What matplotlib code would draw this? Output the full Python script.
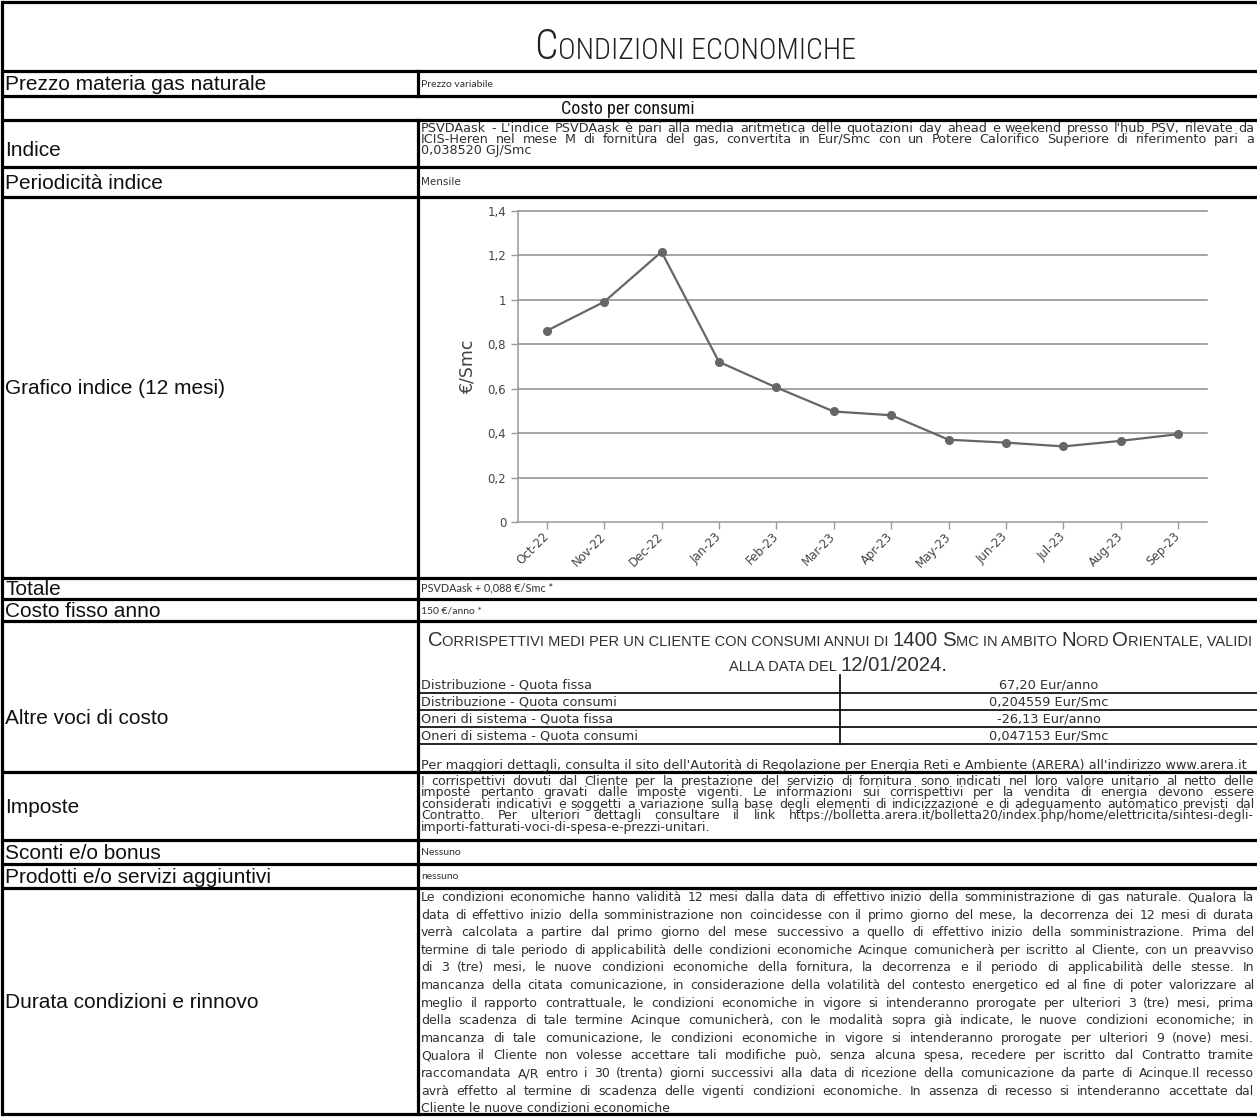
import matplotlib
matplotlib.use('Agg')
import matplotlib.pyplot as plt
from matplotlib import font_manager

# dati del grafico (PSVDAask, €/Smc)
mesi = ['Oct-22', 'Nov-22', 'Dec-22', 'Jan-23', 'Feb-23', 'Mar-23',
        'Apr-23', 'May-23', 'Jun-23', 'Jul-23', 'Aug-23', 'Sep-23']
psv = [0.86, 0.99, 1.215, 0.72, 0.605, 0.497, 0.48, 0.37, 0.357, 0.34, 0.365, 0.395]
y_ticks = [0, 0.2, 0.4, 0.6, 0.8, 1.0, 1.2, 1.4]
y_tick_labels = ['0', '0,2', '0,4', '0,6', '0,8', '1', '1,2', '1,4']

# testi della tabella
titolo = 'Condizioni economiche'
etichette = ['Prezzo materia gas naturale', 'Indice', 'Periodicità indice',
             'Grafico indice (12 mesi)', 'Totale', 'Costo fisso anno',
             'Altre voci di costo', 'Imposte', 'Sconti e/o bonus',
             'Prodotti e/o servizi aggiuntivi', 'Durata condizioni e rinnovo']
sezione = 'Costo per consumi'
prezzo = 'Prezzo variabile'
periodicita = 'Mensile'
totale = 'PSVDAask + 0,088 €/Smc *'
costo_fisso = '150 €/anno *'
sconti = 'Nessuno'
prodotti = 'nessuno'
indice_righe = [
    "PSVDAask - L'indice PSVDAask è pari alla media aritmetica delle quotazioni day ahead e weekend presso l'hub PSV, rilevate da",
    "ICIS-Heren nel mese M di fornitura del gas, convertita in Eur/Smc con un Potere Calorifico Superiore di riferimento pari a",
    "0,038520 GJ/Smc",
]
altre_titolo = ['Corrispettivi medi per un cliente con consumi annui di 1400 Smc in ambito Nord Orientale, validi',
                'alla data del 12/01/2024.']
voci = ['Distribuzione - Quota fissa', 'Distribuzione - Quota consumi',
        'Oneri di sistema - Quota fissa', 'Oneri di sistema - Quota consumi']
valori = ['67,20 Eur/anno', '0,204559 Eur/Smc', '-26,13 Eur/anno', '0,047153 Eur/Smc']
arera = ("Per maggiori dettagli, consulta il sito dell'Autorità di Regolazione per Energia Reti "
         "e Ambiente (ARERA) all'indirizzo www.arera.it")
imposte_righe = [
    "I corrispettivi dovuti dal Cliente per la prestazione del servizio di fornitura sono indicati nel loro valore unitario al netto delle",
    "imposte pertanto gravati dalle imposte vigenti. Le informazioni sui corrispettivi per la vendita di energia devono essere",
    "considerati indicativi e soggetti a variazione sulla base degli elementi di indicizzazione e di adeguamento automatico previsti dal",
    "Contratto. Per ulteriori dettagli consultare il link https://bolletta.arera.it/bolletta20/index.php/home/elettricita/sintesi-degli-",
    "importi-fatturati-voci-di-spesa-e-prezzi-unitari.",
]
durata_righe = [
    "Le condizioni economiche hanno validità 12 mesi dalla data di effettivo inizio della somministrazione di gas naturale. Qualora la",
    "data di effettivo inizio della somministrazione non coincidesse con il primo giorno del mese, la decorrenza dei 12 mesi di durata",
    "verrà calcolata a partire dal primo giorno del mese successivo a quello di effettivo inizio della somministrazione. Prima del",
    "termine di tale periodo di applicabilità delle condizioni economiche Acinque comunicherà per iscritto al Cliente, con un preavviso",
    "di 3 (tre) mesi, le nuove condizioni economiche della fornitura, la decorrenza e il periodo di applicabilità delle stesse. In",
    "mancanza della citata comunicazione, in considerazione della volatilità del contesto energetico ed al fine di poter valorizzare al",
    "meglio il rapporto contrattuale, le condizioni economiche in vigore si intenderanno prorogate per ulteriori 3 (tre) mesi, prima",
    "della scadenza di tale termine Acinque comunicherà, con le modalità sopra già indicate, le nuove condizioni economiche; in",
    "mancanza di tale comunicazione, le condizioni economiche in vigore si intenderanno prorogate per ulteriori 9 (nove) mesi.",
    "Qualora il Cliente non volesse accettare tali modifiche può, senza alcuna spesa, recedere per iscritto dal Contratto tramite",
    "raccomandata A/R entro i 30 (trenta) giorni successivi alla data di ricezione della comunicazione da parte di Acinque.Il recesso",
    "avrà effetto al termine di scadenza delle vigenti condizioni economiche. In assenza di recesso si intenderanno accettate dal",
    "Cliente le nuove condizioni economiche",
]

# font disponibili
nomi = {f.name for f in font_manager.fontManager.ttflist}
def primo(*cand):
    return next((c for c in cand if c in nomi), 'DejaVu Sans')
F_ARIAL = primo('Liberation Sans', 'Arial')
F_STRETTO = primo('Liberation Sans Narrow', 'Roboto Condensed', 'Open Sans Condensed', 'Liberation Sans')
F_VERD = 'DejaVu Sans'
F_TESTO = primo('Lato', 'Open Sans', 'DejaVu Sans')
NERO = '#111111'
GRIGIO_T = '#303030'

# layout (pixel)
W, H = 1257, 1117
bordi = [2, 71, 96, 120, 167, 197, 578, 599, 621, 772, 840, 864, 888, 1114]
righe_etich = [1, 3, 4, 5, 6, 7, 8, 9, 10, 11, 12]
XDIV = 418
X0, X1 = 421, 1254

fig = plt.figure(figsize=(W / 100, H / 100), dpi=100)
bg = fig.add_axes([0, 0, 1, 1])
bg.set_xlim(0, W)
bg.set_ylim(H, 0)
bg.axis('off')
renderer = fig.canvas.get_renderer()

_cache = {}
def larghezza(s, size, family, weight='normal'):
    k = (s, round(size, 3), family, weight)
    if k not in _cache:
        a = bg.text(0, 0, '|' + s + '|', fontsize=size, family=family, fontweight=weight)
        b = bg.text(0, 0, '||', fontsize=size, family=family, fontweight=weight)
        _cache[k] = a.get_window_extent(renderer).width - b.get_window_extent(renderer).width
        a.remove()
        b.remove()
    return _cache[k]

def base(yc, size):
    return yc + 0.32 * size * 100 / 72

def scrivi(x, yc, s, size, family, color=GRIGIO_T, ha='left'):
    bg.text(x, base(yc, size), s, fontsize=size, family=family, color=color,
            ha=ha, va='baseline')

def adatta_mediana(righe, x0, x1, size, family, quota=0.975):
    # corpo tale che la riga "tipica" riempia la cella
    ws = sorted(larghezza(r, size, family) for r in righe[:-1])
    return size * (x1 - x0) * quota / ws[len(ws) // 2]

def giustifica(righe, x0, x1, y0, passo, size, family, color=GRIGIO_T):
    for i, riga in enumerate(righe):
        yc = y0 + i * passo
        parole = riga.split(' ')
        if i == len(righe) - 1 or len(parole) == 1:
            scrivi(x0, yc, riga, size, family, color)
            continue
        s = size
        ws = [larghezza(p, s, family) for p in parole]
        spazio = larghezza(' ', s, family)
        gap = (x1 - x0 - sum(ws)) / (len(parole) - 1)
        if gap < 0.55 * spazio:
            # riga troppo lunga: rimpicciolisce solo questa riga
            s = s * (x1 - x0) / (sum(ws) + 0.55 * spazio * (len(parole) - 1))
            ws = [larghezza(p, s, family) for p in parole]
            gap = (x1 - x0 - sum(ws)) / (len(parole) - 1)
        x = x0
        for p, w in zip(parole, ws):
            bg.text(x, base(yc, size), p, fontsize=s, family=family,
                    color=color, ha='left', va='baseline')
            x += w + gap

def maiuscoletto_runs(testo, big, small):
    runs = []
    for ch in testo:
        s = big if (ch.isupper() or ch.isdigit() or ch in '/.') else small
        if runs and runs[-1][1] == s:
            runs[-1][0] += ch.upper()
        else:
            runs.append([ch.upper(), s])
    return runs

def larg_maiusc(testo, big, ratio, family, weight='normal'):
    return sum(larghezza(r, s, family, weight)
               for r, s in maiuscoletto_runs(testo, big, big * ratio))

def maiuscoletto(testo, xc, yb, big, ratio, family, color=GRIGIO_T, weight='normal'):
    runs = maiuscoletto_runs(testo, big, big * ratio)
    ws = [larghezza(r, s, family, weight) for r, s in runs]
    x = xc - sum(ws) / 2
    for (r, s), w in zip(runs, ws):
        bg.text(x, yb, r, fontsize=s, family=family, color=color, ha='left',
                va='baseline', fontweight=weight)
        x += w

# griglia della tabella
LW = 2.3
for y in bordi:
    bg.plot([2, W], [y, y], color='black', lw=LW, solid_capstyle='butt')
bg.plot([2, 2], [bordi[0], bordi[-1]], color='black', lw=LW)
bg.plot([XDIV, XDIV], [bordi[1], bordi[2]], color='black', lw=LW)
bg.plot([XDIV, XDIV], [bordi[3], bordi[-1]], color='black', lw=LW)

# titolo
tb = 10 * 324 / larg_maiusc(titolo, 10, 0.72, F_STRETTO, 'light')
maiuscoletto(titolo, 533 + 324 / 2, 59, tb, 0.72, F_STRETTO, '#222222', 'light')

# etichette a sinistra
for lab, r in zip(etichette, righe_etich):
    top, bot = bordi[r], bordi[r + 1]
    if r == 8:
        yc = top + 0.64 * (bot - top)
    elif r == 3:
        yc = top + 0.62 * (bot - top)
    else:
        yc = (top + bot) / 2
    scrivi(5, yc, lab, 15, F_ARIAL, NERO)
scrivi(628, (bordi[2] + bordi[3]) / 2, sezione, 13, F_STRETTO, NERO, ha='center')

# testi brevi
scrivi(X0, 84, prezzo, 7.5, F_TESTO)
scrivi(X0, 182, periodicita, 7.5, F_VERD)
scrivi(X0, 588, totale, 7.8, F_TESTO)
scrivi(X0, 610, costo_fisso, 7.5, F_TESTO)
scrivi(X0, 852, sconti, 7.5, F_TESTO)
scrivi(X0, 876, prodotti, 7.5, F_TESTO)

# indice
s_ind = min(9.2, adatta_mediana(indice_righe, X0, X1, 8, F_VERD, 0.985))
giustifica(indice_righe, X0, X1, 127.5, 11.3, s_ind, F_VERD)

# altre voci di costo
hb = 10 * 825 / larg_maiusc(altre_titolo[0], 10, 0.72, F_ARIAL)
maiuscoletto(altre_titolo[0], 840, 646, hb, 0.72, F_ARIAL)
maiuscoletto(altre_titolo[1], 838, 671, hb, 0.72, F_ARIAL)
s_tab = 8 * 830 / larghezza(arera, 8, F_VERD)
y_voci = [684, 701, 718, 735]
for v, val, yc in zip(voci, valori, y_voci):
    scrivi(X0, yc, v, s_tab, F_VERD)
    scrivi(1049, yc, val, s_tab, F_VERD, ha='center')
    bg.plot([420, W], [yc + 8.5, yc + 8.5], color='black', lw=1.2)
bg.plot([840, 840], [675, y_voci[-1] + 8.5], color='black', lw=1.2)
scrivi(X0, 765, arera, s_tab, F_VERD)

# imposte e durata
s_par = s_tab * 0.97
giustifica(imposte_righe, X0, X1, 780.5, 11.6, s_par, F_VERD)
giustifica(durata_righe, X0, X1, 897, 17.6, s_par, F_VERD)

# grafico indice
ax = fig.add_axes([518 / W, 1 - 522 / H, (1207 - 518) / W, (522 - 210.7) / H])
ax.patch.set_alpha(0)
x = list(range(len(mesi)))
ax.plot(x, psv, color='#666666', lw=1.6, marker='o', ms=5.5, zorder=3)
ax.set_xlim(-0.5, len(mesi) - 0.5)
ax.set_ylim(0, 1.4)
ax.set_yticks(y_ticks)
ax.set_yticklabels(y_tick_labels)
ax.set_xticks(x)
ax.set_xticklabels(mesi, rotation=45, ha='right', va='center', rotation_mode='anchor')
for yt in y_ticks[1:]:
    ax.axhline(yt, color='#8a8a8a', lw=1.1, zorder=1, clip_on=False)
for sp in ['top', 'right']:
    ax.spines[sp].set_visible(False)
for sp in ['left', 'bottom']:
    ax.spines[sp].set_color('#999999')
    ax.spines[sp].set_linewidth(1.1)
ax.tick_params(axis='both', colors='#999999', labelcolor='#444444', labelsize=8.5,
               length=5, width=1)
ax.tick_params(axis='x', pad=4)
for t in ax.get_xticklabels() + ax.get_yticklabels():
    t.set_family(F_VERD)
ax.set_ylabel('€/Smc', fontsize=12.5, color='#444444', family=F_VERD, labelpad=8)

fig.savefig('out.png', dpi=100)
